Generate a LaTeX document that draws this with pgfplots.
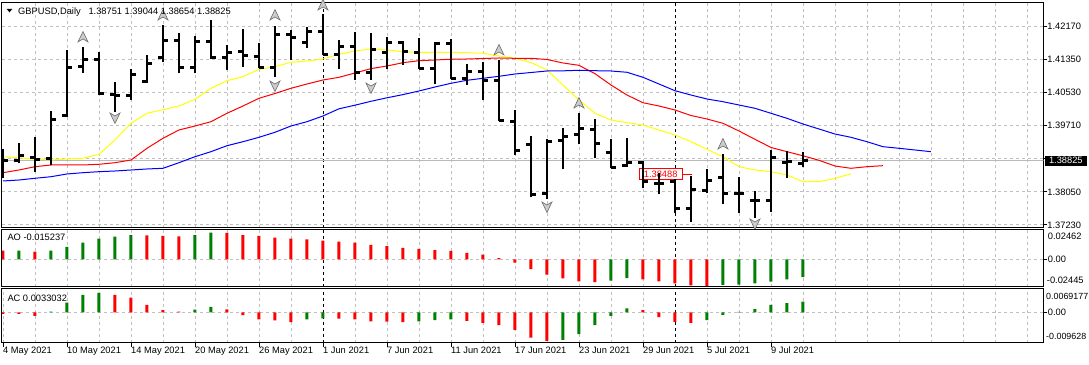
\documentclass[border=0pt]{standalone}
\usepackage{fontspec}
\setmainfont{Liberation Sans}
\usepackage{pgfplots}
\usepackage{pgfplotstable}
\pgfplotsset{compat=1.18}
\definecolor{aogreen}{HTML}{008000}
\definecolor{aored}{HTML}{FF0000}
\definecolor{gridc}{HTML}{C0C0C0}
\definecolor{mayellow}{HTML}{FFFF00}
\newcommand{\mtf}{\fontsize{9.3pt}{11pt}\selectfont}
\newcommand{\mtfs}{\fontsize{8.9pt}{11pt}\selectfont}

\pgfdeclareplotmark{fup}{%
  \pgfpathmoveto{\pgfqpoint{0pt}{5.5pt}}%
  \pgfpathlineto{\pgfqpoint{5pt}{-5pt}}%
  \pgfpathlineto{\pgfqpoint{0pt}{-2pt}}%
  \pgfpathlineto{\pgfqpoint{-5pt}{-5pt}}%
  \pgfpathclose
  \pgfusepathqfillstroke}
\pgfdeclareplotmark{fdown}{%
  \pgfpathmoveto{\pgfqpoint{0pt}{-5.5pt}}%
  \pgfpathlineto{\pgfqpoint{5pt}{5pt}}%
  \pgfpathlineto{\pgfqpoint{0pt}{2pt}}%
  \pgfpathlineto{\pgfqpoint{-5pt}{5pt}}%
  \pgfpathclose
  \pgfusepathqfillstroke}

\pgfplotstableread{
x o h l c
0 1.38858 1.39106 1.38386 1.38840
1 1.38840 1.39255 1.38758 1.38940
2 1.38897 1.39419 1.38550 1.38858
3 1.38883 1.40058 1.38716 1.39852
4 1.39934 1.41574 1.39916 1.41134
5 1.41159 1.41656 1.41010 1.41343
6 1.41343 1.41531 1.40455 1.40498
7 1.40473 1.40786 1.40041 1.40455
8 1.40431 1.41102 1.40331 1.40970
9 1.40803 1.41449 1.40746 1.41226
10 1.41382 1.42195 1.41268 1.41805
11 1.41805 1.41989 1.40995 1.41134
12 1.41134 1.41929 1.40995 1.41780
13 1.41780 1.42319 1.41343 1.41392
14 1.41392 1.41698 1.41077 1.41507
15 1.41531 1.42088 1.41159 1.41449
16 1.41407 1.41740 1.41119 1.41134
17 1.41134 1.42170 1.40895 1.41964
18 1.41964 1.42071 1.41325 1.41879
19 1.41755 1.42153 1.41616 1.42028
20 1.42028 1.42468 1.41449 1.41467
21 1.41467 1.41822 1.41094 1.41656
22 1.41656 1.42013 1.40828 1.41010
23 1.41010 1.41989 1.40828 1.41591
24 1.41507 1.41889 1.41094 1.41755
25 1.41755 1.41805 1.41201 1.41531
26 1.41507 1.41864 1.41102 1.41119
27 1.41119 1.41765 1.40721 1.41740
28 1.41740 1.41839 1.40853 1.40853
29 1.40853 1.41226 1.40704 1.41034
30 1.41034 1.41283 1.40331 1.40811
31 1.40811 1.41325 1.39817 1.39817
32 1.39792 1.40083 1.38965 1.39071
33 1.39213 1.39437 1.37928 1.37971
34 1.38013 1.39355 1.37864 1.39295
35 1.39320 1.39643 1.38609 1.39419
36 1.39462 1.40001 1.39230 1.39628
37 1.39586 1.39859 1.38883 1.39255
38 1.39022 1.39355 1.38634 1.38659
39 1.38699 1.39394 1.38674 1.38773
40 1.38773 1.38815 1.38137 1.38301
41 1.38261 1.38510 1.37988 1.38250
42 1.38301 1.38368 1.37531 1.37640
43 1.37640 1.38443 1.37307 1.38095
44 1.38070 1.38609 1.38013 1.38343
45 1.38401 1.38989 1.37740 1.38013
46 1.37996 1.38425 1.37531 1.38008
47 1.37829 1.38070 1.37407 1.37822
48 1.37829 1.39089 1.37556 1.38907
49 1.38783 1.39071 1.38386 1.38798
50 1.38751 1.39044 1.38654 1.38825
}\ohlc

\pgfplotstableread{
x y
0 1.38922
1 1.38897
2 1.38858
3 1.38840
4 1.38865
5 1.38883
6 1.38982
7 1.39337
8 1.39752
9 1.40001
10 1.40090
11 1.40182
12 1.40349
13 1.40622
14 1.40811
15 1.40910
16 1.41094
17 1.41159
18 1.41268
19 1.41300
20 1.41350
21 1.41467
22 1.41549
23 1.41598
24 1.41574
25 1.41531
26 1.41516
27 1.41516
28 1.41516
29 1.41507
30 1.41492
31 1.41425
32 1.41367
33 1.41263
34 1.41077
35 1.40704
36 1.40331
37 1.40001
38 1.39834
39 1.39767
40 1.39710
41 1.39586
42 1.39462
43 1.39295
44 1.39106
45 1.38922
46 1.38674
47 1.38592
48 1.38550
49 1.38468
50 1.38301
51 1.38301
52 1.38386
53 1.38493
}\lips

\pgfplotstableread{
x y
0 1.38525
1 1.38592
2 1.38674
3 1.38716
4 1.38716
5 1.38716
6 1.38734
7 1.38773
8 1.38840
9 1.39131
10 1.39380
11 1.39586
12 1.39685
13 1.39792
14 1.40001
15 1.40182
16 1.40373
17 1.40493
18 1.40622
19 1.40729
20 1.40828
21 1.40895
22 1.41002
23 1.41111
24 1.41176
25 1.41258
26 1.41308
27 1.41325
28 1.41345
29 1.41350
30 1.41362
31 1.41375
32 1.41367
33 1.41367
34 1.41338
35 1.41251
36 1.41193
37 1.40985
38 1.40704
39 1.40455
40 1.40264
41 1.40182
42 1.40083
43 1.39946
44 1.39859
45 1.39752
46 1.39561
47 1.39355
48 1.39151
49 1.39047
50 1.38945
51 1.38833
52 1.38691
53 1.38634
54 1.38674
55 1.38699
}\teeth

\pgfplotstableread{
x y
0 1.38319
1 1.38343
2 1.38386
3 1.38425
4 1.38493
5 1.38525
6 1.38550
7 1.38567
8 1.38592
9 1.38617
10 1.38634
11 1.38773
12 1.38922
13 1.39047
14 1.39196
15 1.39295
16 1.39404
17 1.39529
18 1.39685
19 1.39792
20 1.39934
21 1.40112
22 1.40202
23 1.40299
24 1.40386
25 1.40465
26 1.40555
27 1.40654
28 1.40746
29 1.40821
30 1.40870
31 1.40920
32 1.40977
33 1.41014
34 1.41052
35 1.41056
36 1.41069
37 1.41059
38 1.41052
39 1.41020
40 1.40895
41 1.40729
42 1.40562
43 1.40455
44 1.40356
45 1.40289
46 1.40207
47 1.40125
48 1.40001
49 1.39876
50 1.39735
51 1.39611
52 1.39486
53 1.39404
54 1.39295
55 1.39171
56 1.39131
57 1.39089
58 1.39047
}\jaw

\pgfplotsset{mt/.style={
  scale only axis, anchor=south west,
  xmin=-0.0625, xmax=65.02,
  axis line style={line width=1pt},
  tick align=outside, major tick length=4pt,
  tick style={black, line width=0.8pt},
  xtick style={draw=none},
  ytick pos=right, yticklabel pos=right,
  xmajorgrids, ymajorgrids,
  grid style={draw=gridc, dash pattern=on 3pt off 3pt, line width=0.8pt},
  scaled ticks=false,
  tick label style={font=\mtf},
  extra x ticks={20,42}, extra x tick labels={},
  extra x tick style={grid=major, major grid style={draw=black, dash pattern=on 3pt off 3pt, line width=0.8pt}, xtick style={draw=none}},
}}

\begin{document}
\begin{tikzpicture}
\useasboundingbox (0,0) rectangle (1089pt,364pt);
\fill[white] (0,0) rectangle (1089pt,364pt);

% ---------------- main price panel
\begin{axis}[mt, at={(2pt,136.3pt)}, width=1041.3pt, height=225.2pt,
  ymin=1.37158, ymax=1.42754,
  xtick={2,4,...,64}, xticklabels={},
  ytick={1.37230,1.38050,1.38880,1.39710,1.40530,1.41350,1.42170},
  yticklabels={1.37230,1.38050,,1.39710,1.40530,1.41350,1.42170},
  yticklabel style={anchor=west, inner sep=0pt},
]
\addplot[gray!55, line width=0.8pt, forget plot] coordinates {(-1,1.38825) (66,1.38825)};
\node[draw=aored, line width=0.8pt, text=aored, font=\mtf, anchor=west, inner xsep=4.5pt, inner ysep=2.4pt, fill=white] at (axis cs:39.75,1.38488) {1.38488};
\addplot[aored, line width=0.8pt, forget plot] coordinates {(42.44,1.38488) (43.06,1.38488)};

\addplot[mayellow, line width=1pt, mark=none] table[x=x,y=y] {\lips};
\addplot[aored, line width=1pt, mark=none] table[x=x,y=y] {\teeth};
\addplot[blue, line width=1pt, mark=none] table[x=x,y=y] {\jaw};

% OHLC bars: high-low, open tick, close tick
\addplot[draw=none, mark=none, error bars/.cd, y dir=plus, y explicit, error mark=none,
  error bar style={draw=black, solid, line width=2.7pt}]
  table[x=x, y=l, y error plus expr=\thisrow{h}-\thisrow{l}] {\ohlc};
\addplot[draw=none, mark=none, error bars/.cd, x dir=minus, x fixed=0.33, error mark=none,
  error bar style={draw=black, solid, line width=3pt}]
  table[x=x, y=o] {\ohlc};
\addplot[draw=none, mark=none, error bars/.cd, x dir=plus, x fixed=0.33, error mark=none,
  error bar style={draw=black, solid, line width=3pt}]
  table[x=x, y=c] {\ohlc};

% fractals
\addplot[only marks, mark=fup, mark options={fill=gray!40, draw=gray!85!black, line width=0.6pt}]
  coordinates {(5,1.41897) (10,1.42443) (17,1.42443) (20,1.42692) (31,1.41574) (36,1.40257) (45,1.39238)};
\addplot[only marks, mark=fdown, mark options={fill=gray!40, draw=gray!85!black, line width=0.6pt}]
  coordinates {(7,1.39884) (17,1.40679) (23,1.40629) (34,1.37672) (43,1.37151) (47,1.37250)};
\end{axis}

% ---------------- AO panel
\begin{axis}[mt, at={(2pt,77.3pt)}, width=1041.3pt, height=57.4pt,
  ymin=-0.02337, ymax=0.02559,
  xtick={2,4,...,64}, xticklabels={},
  ytick={0}, yticklabels={},
]
\addplot[ybar, bar width=3pt, bar shift=0pt, fill=aogreen, draw=none] coordinates {
(1,0.0073) (3,0.0073) (4,0.0107) (5,0.0142) (6,0.0176) (7,0.0193) (8,0.0207) (12,0.0207) (13,0.0227)
(38,-0.0181) (39,-0.0160) (45,-0.0218) (46,-0.0217) (47,-0.0206) (48,-0.0190) (49,-0.0172) (50,-0.015237)};
\addplot[ybar, bar width=3pt, bar shift=0pt, fill=aored, draw=none] coordinates {
(0,0.0073) (2,0.0065) (9,0.0205) (10,0.0199) (11,0.0196) (14,0.0226) (15,0.0207) (16,0.0199) (17,0.0184)
(18,0.0176) (19,0.0171) (20,0.0159) (21,0.0150) (22,0.0142) (23,0.0122) (24,0.0113) (25,0.0098) (26,0.0090)
(27,0.0079) (28,0.0071) (29,0.0054) (30,0.0039) (31,0.0011) (32,-0.0029) (33,-0.0083) (34,-0.0130)
(35,-0.0162) (36,-0.0189) (37,-0.0195) (40,-0.0172) (41,-0.0189) (42,-0.0206) (43,-0.0223) (44,-0.0226)};
\end{axis}

% ---------------- AC panel
\begin{axis}[mt, at={(2pt,21.3pt)}, width=1041.3pt, height=53.7pt,
  ymin=-0.00948, ymax=0.00727,
  ytick={0}, yticklabels={},
  xtick={0,4,...,48},
  xticklabels={4 May 2021,10 May 2021,14 May 2021,20 May 2021,26 May 2021,1 Jun 2021,7 Jun 2021,11 Jun 2021,17 Jun 2021,23 Jun 2021,29 Jun 2021,5 Jul 2021,9 Jul 2021},
  xtick style={draw=black, line width=0.8pt}, xtick pos=left,
  minor xtick={2,4,...,64}, xminorgrids, minor tick length=0pt,
  minor grid style={draw=gridc, dash pattern=on 3pt off 3pt, line width=0.8pt},
  xticklabel style={anchor=north west, inner sep=0pt},
]
\addplot[ybar, bar width=3pt, bar shift=0pt, fill=aogreen, draw=none] coordinates {
(3,0.0002) (4,0.0030) (5,0.0054) (6,0.0061) (12,0.0008) (13,0.0017) (19,-0.0022) (20,-0.0019)
(26,-0.0028) (27,-0.0024) (28,-0.0022) (35,-0.0086) (36,-0.0068) (37,-0.0040) (38,-0.0011) (39,0.0012)
(44,-0.0024) (45,-0.0008) (46,0.0001) (47,0.0010) (48,0.0023) (49,0.0029) (50,0.0033032)};
\addplot[ybar, bar width=3pt, bar shift=0pt, fill=aored, draw=none] coordinates {
(0,-0.0005) (1,-0.0005) (2,-0.0011) (7,0.0054) (8,0.0046) (9,0.0023) (10,0.0007) (11,0.0002) (14,0.0009)
(15,-0.0009) (16,-0.0022) (17,-0.0025) (18,-0.0031) (21,-0.0020) (22,-0.0022) (23,-0.0028) (24,-0.0029)
(25,-0.0031) (29,-0.0027) (30,-0.0033) (31,-0.0040) (32,-0.0055) (33,-0.0079) (34,-0.0089) (40,0.0007)
(41,-0.0015) (42,-0.0030) (43,-0.0033)};
\end{axis}

% ---------------- texts
\fill (6.7pt,355pt) -- (12.3pt,355pt) -- (9.5pt,351.7pt) -- cycle;
\node[font=\mtf, anchor=base west, inner sep=0pt] at (18pt,349.7pt) {GBPUSD,Daily};
\node[font=\mtf, anchor=base west, inner sep=0pt] at (88.3pt,349.7pt) {1.38751 1.39044 1.38654 1.38825};
\node[font=\mtf, anchor=base west, inner sep=0pt] at (7.3pt,123.3pt) {AO -0.015237};
\node[font=\mtf, anchor=base west, inner sep=0pt] at (7.3pt,62pt) {AC 0.0033032};
\node[fill=black, text=white, font=\mtf, anchor=west, inner xsep=4pt, inner ysep=1.7pt, text height=6.7pt, text depth=0pt] at (1044.8pt,203.4pt) {1.38825};
\node[font=\mtf, anchor=base west, inner sep=0pt] at (1047.7pt,124.7pt) {0.02462};
\node[font=\mtf, anchor=base west, inner sep=0pt] at (1047.7pt,101.4pt) {0.00};
\node[font=\mtf, anchor=base west, inner sep=0pt] at (1046.7pt,80pt) {-0.02445};
\node[font=\mtfs, anchor=base west, inner sep=0pt] at (1046pt,64pt) {0.0069177};
\node[font=\mtf, anchor=base west, inner sep=0pt] at (1047.7pt,48.4pt) {0.00};
\node[font=\mtfs, anchor=base west, inner sep=0pt] at (1046pt,24pt) {-0.009628};
\end{tikzpicture}
\end{document}
